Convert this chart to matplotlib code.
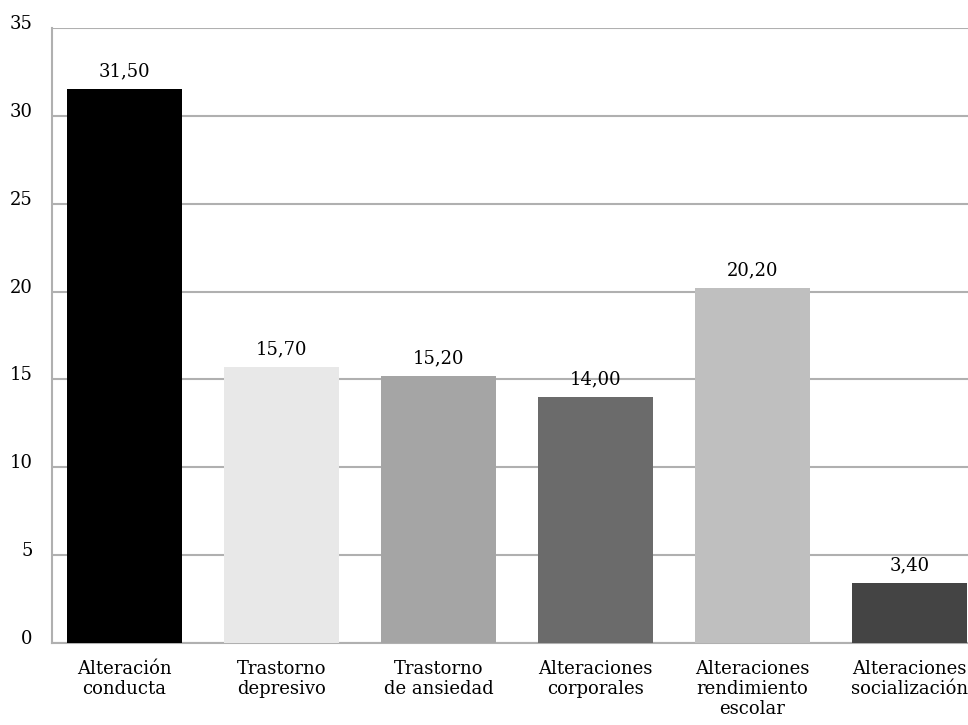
import matplotlib.pyplot as plt
from matplotlib.transforms import ScaledTranslation
import numpy as np

# Datos del gráfico
categorias = ['Alteración\nconducta', 'Trastorno\ndepresivo', 'Trastorno\nde ansiedad',
              'Alteraciones\ncorporales', 'Alteraciones\nrendimiento\nescolar',
              'Alteraciones\nsocialización']
valores = [31.50, 15.70, 15.20, 14.00, 20.20, 3.40]
colores = ['#000000', '#e8e8e8', '#a5a5a5', '#6b6b6b', '#bfbfbf', '#444444']
ticks_y = [0, 5, 10, 15, 20, 25, 30, 35]

plt.rcParams['font.family'] = ['DejaVu Serif']

fig = plt.figure(figsize=(9.68, 7.25), dpi=100)
ax = fig.add_axes([0.0537, 0.1131, 0.9463, 0.8483])

x = np.arange(len(categorias))
barras = ax.bar(x, valores, width=0.7325, color=colores, zorder=3)

for b, v in zip(barras, valores):
    ax.text(b.get_x() + b.get_width() / 2, v + 0.5, f'{v:.2f}'.replace('.', ','),
            ha='center', va='bottom', fontsize=13, zorder=4)

ax.set_ylim(0, 35)
ax.set_xlim(-0.462, 5.373)
ax.set_yticks(ticks_y)
ax.set_yticklabels([str(t) for t in ticks_y], fontsize=13)
ax.set_xticks(x)
ax.set_xticklabels(categorias, fontsize=13, linespacing=1.15)
ax.tick_params(axis='y', length=0, pad=14)
ax.tick_params(axis='x', length=0, pad=12)
ax.yaxis.grid(True, color='#b0b0b0', linewidth=1.5, zorder=0)

# etiquetas del eje y un poco por encima de su línea
desplaz = ScaledTranslation(0, 6 / 100, fig.dpi_scale_trans)
for etiqueta in ax.get_yticklabels():
    etiqueta.set_transform(etiqueta.get_transform() + desplaz)

for lado in ['top', 'right']:
    ax.spines[lado].set_visible(False)
for lado in ['left', 'bottom']:
    ax.spines[lado].set_color('#b0b0b0')
    ax.spines[lado].set_linewidth(1.5)

fig.savefig('out.png', dpi=100)
